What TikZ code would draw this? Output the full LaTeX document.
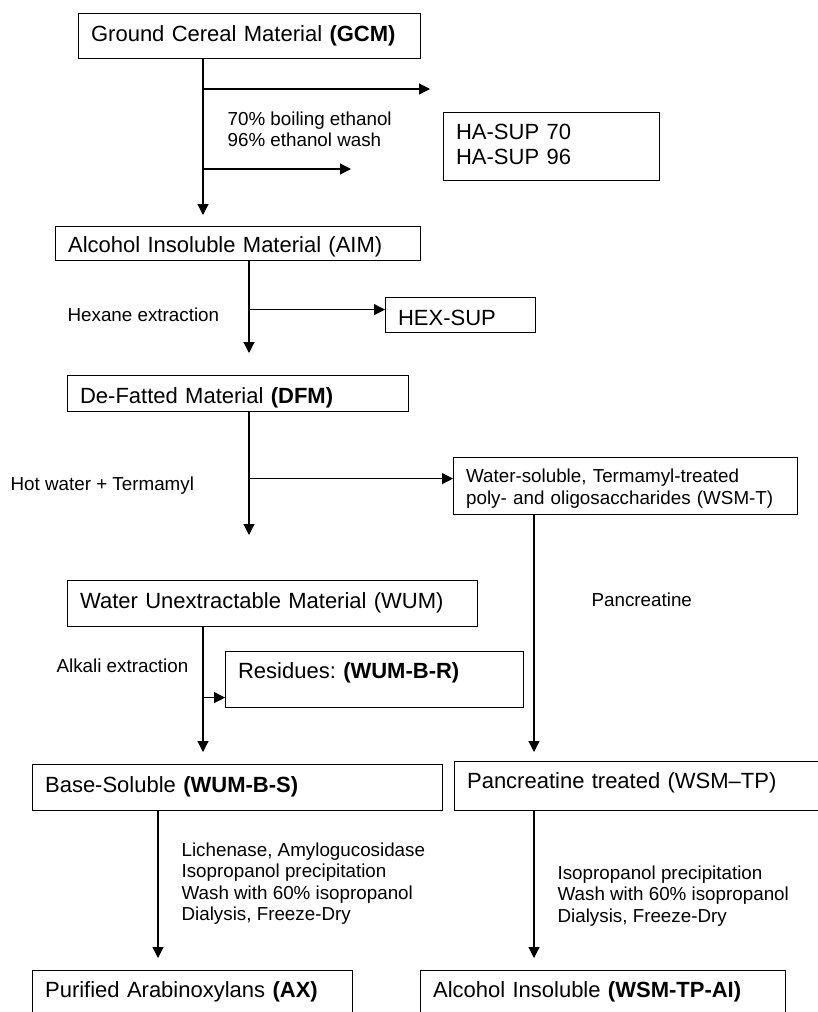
\documentclass[tikz,border=0pt]{standalone}
\usepackage{fontspec}
\setmainfont{Liberation Sans}
\usetikzlibrary{arrows.meta}
\frenchspacing
\newcommand{\boxfont}{\fontsize{22}{25}\selectfont}
\newcommand{\notefont}{\fontsize{18.8}{21.5}\selectfont}

\begin{document}
\begin{tikzpicture}[
 x=1pt,y=-1pt,
 line width=1.2pt,
 >={Triangle[length=11pt,width=11pt]},
 box/.style={draw=black,rectangle,anchor=north west,align=left,inner xsep=12.5pt,inner ysep=0pt,font=\boxfont},
 note/.style={anchor=base west,align=left,inner sep=0pt,font=\notefont}
]
\useasboundingbox (0,0) rectangle (818,1012);
% boxes
\node (gcm-box) [box,text width=317pt,text height=28pt,text depth=17pt] at (78,13) {Ground Cereal Material \textbf{(GCM)}};
\node (hasup-box) [box,text width=191pt,text height=27pt,text depth=41pt] at (443,112) {HA-SUP 70\\HA-SUP 96};
\node (aim-box) [box,text width=340pt,text height=26pt,text depth=8pt] at (55,226) {Alcohol Insoluble Material (AIM)};
\node (hexsup-box) [box,text width=125pt,text height=28pt,text depth=7pt] at (385,297) {HEX-SUP};
\node (dfm-box) [box,text width=316pt,text height=28pt,text depth=8pt] at (67,375) {De-Fatted Material \textbf{(DFM)}};
\node (wsmt-box) [box,font=\notefont,text width=319pt,text height=25pt,text depth=32pt] at (453,457) {Water-soluble, Termamyl-treated\\poly- and oligosaccharides (WSM-T)};
\node (wum-box) [box,text width=385pt,text height=28pt,text depth=18pt] at (67,580) {Water Unextractable Material (WUM)};
\node (residues-box) [box,text width=273pt,text height=27pt,text depth=29pt] at (225,651) {Residues: \textbf{(WUM-B-R)}};
\node (wumbs-box) [box,text width=385pt,text height=28pt,text depth=18pt] at (32,764) {Base-Soluble \textbf{(WUM-B-S)}};
\node (wsmtp-box) [box,text width=351pt,text height=27pt,text depth=22pt] at (454,761) {Pancreatine treated (WSM--TP)};
\node (ax-box) [box,text width=295pt,text height=27pt,text depth=50pt] at (32,970) {Purified Arabinoxylans \textbf{(AX)}};
\node (wsmtpai-box) [box,text width=340pt,text height=27pt,text depth=50pt] at (420,970) {Alcohol Insoluble \textbf{(WSM-TP-AI)}};
% step labels (placed at the baseline of their last line)
\node (ethanol-note) [note] at (227,146.5) {70\% boiling ethanol\\96\% ethanol wash};
\node (hexane-note) [note] at (67,321) {Hexane extraction};
\node (termamyl-note) [note] at (10,490) {Hot water + Termamyl};
\node (pancreatine-note) [note] at (591,606) {Pancreatine};
\node (alkali-note) [note] at (56,672) {Alkali extraction};
\node (ax-note) [note] at (181,920.5) {Lichenase, Amylogucosidase\\Isopropanol precipitation\\Wash with 60\% isopropanol\\Dialysis, Freeze-Dry};
\node (ai-note) [note] at (557,922) {Isopropanol precipitation\\Wash with 60\% isopropanol\\Dialysis, Freeze-Dry};
% trunks and branch ends
\coordinate (trunk-a) at (203,0);
\coordinate (trunk-b) at (249,0);
\coordinate (trunk-c) at (534,0);
\coordinate (trunk-d) at (158,0);
\coordinate (ha-end70) at (430,89);
\coordinate (ha-end96) at (351,169);
\coordinate (hexsup-in) at ([yshift=5.5pt]hexsup-box.west);
\coordinate (wsmt-in) at ([yshift=7.5pt]wsmt-box.west);
\coordinate (residues-in) at ([yshift=-18pt]residues-box.west);
\draw[->,shorten >=11pt] (trunk-a |- gcm-box.south) -- (trunk-a |- aim-box.north);
\draw[->] (trunk-a |- ha-end70) -- (ha-end70);
\draw[->] (trunk-a |- ha-end96) -- (ha-end96);
\draw[->,shorten >=22pt] (trunk-b |- aim-box.south) -- (trunk-b |- dfm-box.north);
\draw[->] (trunk-b |- hexsup-in) -- (hexsup-in);
\draw[->,shorten >=45pt] (trunk-b |- dfm-box.south) -- (trunk-b |- wum-box.north);
\draw[->] (trunk-b |- wsmt-in) -- (wsmt-in);
\draw[->,shorten >=12pt] (trunk-a |- wum-box.south) -- (trunk-a |- wumbs-box.north);
\draw[->] (trunk-a |- residues-in) -- (residues-in);
\draw[->,shorten >=9pt] (trunk-c |- wsmt-box.south) -- (trunk-c |- wsmtp-box.north);
\draw[->,shorten >=12pt] (trunk-d |- wumbs-box.south) -- (trunk-d |- ax-box.north);
\draw[->,shorten >=12pt] (trunk-c |- wsmtp-box.south) -- (trunk-c |- wsmtpai-box.north);
\end{tikzpicture}
\end{document}
